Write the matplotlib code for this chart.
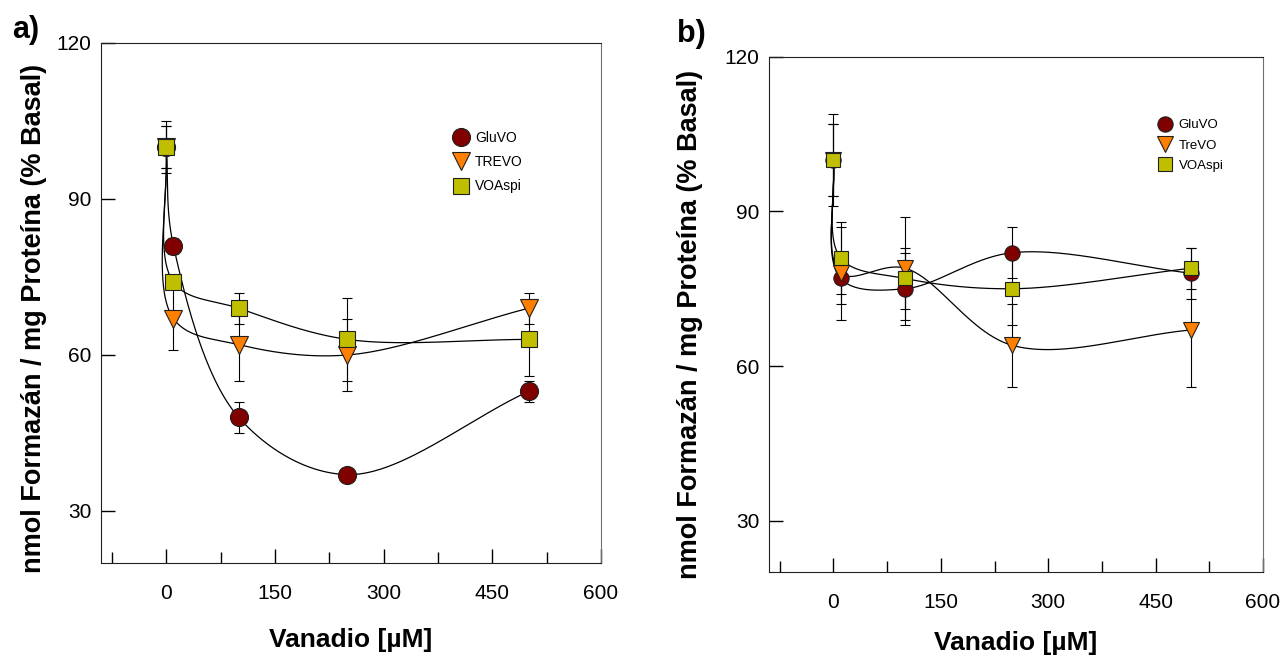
import numpy as np
import matplotlib
matplotlib.use("Agg")
import matplotlib.pyplot as plt
from matplotlib.lines import Line2D

# data
dose = [0, 10, 100, 250, 500]
series = ["GluVO", "TREVO", "VOAspi"]
series_b = ["GluVO", "TreVO", "VOAspi"]

a_glu = [100, 81, 48, 37, 53]
a_glu_err = [4, 1.5, 3, 1, 2]
a_tre = [100, 67, 62, 60, 69]
a_tre_err = [5, 6, 7, 7, 3]
a_voa = [100, 74, 69, 63, 63]
a_voa_err = [4, 1, 3, 8, 7]

b_glu = [100, 77, 75, 82, 78]
b_glu_err = [9, 5, 7, 5, 5]
b_tre = [100, 78, 79, 64, 67]
b_tre_err = [7, 9, 10, 8, 11]
b_voa = [100, 81, 77, 75, 79]
b_voa_err = [7, 7, 6, 7, 4]

colors = ["#800000", "#FF8000", "#BFBF00"]
markers = ["o", "v", "s"]

plt.rcParams["font.family"] = ["Liberation Sans", "DejaVu Sans"]

XLIM = (-90, 600)
YLIM = (20, 120)


def catmull_rom(P, n=80, alpha=0.5):
    # centripetal Catmull-Rom through the points
    ext = np.vstack([2 * P[0] - P[1], P, 2 * P[-1] - P[-2]])
    out = []
    for i in range(1, len(ext) - 2):
        p0, p1, p2, p3 = ext[i - 1:i + 3]
        t0 = 0.0
        t1 = t0 + np.linalg.norm(p1 - p0) ** alpha
        t2 = t1 + np.linalg.norm(p2 - p1) ** alpha
        t3 = t2 + np.linalg.norm(p3 - p2) ** alpha
        t = np.linspace(t1, t2, n)[:, None]
        A1 = (t1 - t) / (t1 - t0) * p0 + (t - t0) / (t1 - t0) * p1
        A2 = (t2 - t) / (t2 - t1) * p1 + (t - t1) / (t2 - t1) * p2
        A3 = (t3 - t) / (t3 - t2) * p2 + (t - t2) / (t3 - t2) * p3
        B1 = (t2 - t) / (t2 - t0) * A1 + (t - t0) / (t2 - t0) * A2
        B2 = (t3 - t) / (t3 - t1) * A2 + (t - t1) / (t3 - t1) * A3
        out.append((t2 - t) / (t2 - t1) * B1 + (t - t1) / (t2 - t1) * B2)
    return np.vstack(out)


def smooth(x, y, w, hgt):
    x = np.asarray(x, float)
    y = np.asarray(y, float)
    u = (x - XLIM[0]) / (XLIM[1] - XLIM[0]) * w
    v = (y - YLIM[0]) / (YLIM[1] - YLIM[0]) * hgt
    c = catmull_rom(np.column_stack([u, v]))
    return (c[:, 0] / w * (XLIM[1] - XLIM[0]) + XLIM[0],
            c[:, 1] / hgt * (YLIM[1] - YLIM[0]) + YLIM[0])


def panel(ax, data, errs, labels, ms, w, hgt, leg_anchor, leg_fs, leg_sp):
    for vals, err in zip(data, errs):
        sx, sy = smooth(dose, vals, w, hgt)
        ax.plot(sx, sy, color="black", lw=0.9, zorder=2)
        ax.errorbar(dose, vals, yerr=err, fmt="none", ecolor="black",
                    elinewidth=0.8, capsize=3.5, capthick=0.8, zorder=3)
    for vals, col, mk, s in zip(data, colors, markers, ms):
        ax.plot(dose, vals, ls="none", marker=mk, ms=s, mfc=col,
                mec="#202020", mew=0.8, zorder=4)
    handles = [Line2D([], [], ls="none", marker=mk, ms=s, mfc=col, mec="#202020", mew=0.8)
               for col, mk, s in zip(colors, markers, ms)]
    ax.legend(handles, labels, loc="upper left", bbox_to_anchor=leg_anchor,
              frameon=False, fontsize=leg_fs, handletextpad=0.4,
              labelspacing=leg_sp, borderpad=0, handlelength=1.2)
    ax.set_xlim(XLIM)
    ax.set_ylim(YLIM)
    ax.set_xticks([0, 150, 300, 450, 600])
    ax.set_xticks([-75, 75, 225, 375, 525], minor=True)
    ax.set_yticks([30, 60, 90, 120])
    ax.tick_params(axis="both", which="major", direction="in", length=10,
                   width=1, labelsize=15)
    ax.tick_params(axis="x", which="major", pad=15)
    ax.tick_params(axis="y", which="major", pad=7)
    ax.tick_params(axis="x", which="minor", direction="in", length=8, width=1)
    for sp in ["left", "bottom", "top"]:
        ax.spines[sp].set_color("#202020")
    ax.spines["right"].set_color("#707070")
    ax.set_xlabel("Vanadio [\u00b5M]", fontsize=19, fontweight="bold")
    ax.set_ylabel("nmol Formaz\u00e1n / mg Prote\u00edna (% Basal)", fontsize=19.5,
                  fontweight="bold")


fig = plt.figure(figsize=(12.86, 6.57), dpi=100)
ax_a = fig.add_axes([101 / 1286, 1 - 563 / 657, 500 / 1286, 520 / 657])
ax_b = fig.add_axes([769 / 1286, 1 - 572 / 657, 494 / 1286, 515 / 657])

panel(ax_a, [a_glu, a_tre, a_voa], [a_glu_err, a_tre_err, a_voa_err], series,
      [13, 13, 12], 500, 520, (0.69, 0.845), 10, 0.75)
panel(ax_b, [b_glu, b_tre, b_voa], [b_glu_err, b_tre_err, b_voa_err], series_b,
      [11, 11, 10], 494, 515, (0.773, 0.892), 9.5, 0.6)

ax_a.xaxis.set_label_coords(0.5, -0.125)
ax_a.yaxis.set_label_coords(-0.108, 0.47)
ax_b.xaxis.set_label_coords(0.5, -0.114)
ax_b.yaxis.set_label_coords(-0.133, 0.48)

fig.text(12 / 1286, 1 - 15 / 657, "a)", fontsize=22, fontweight="bold", va="top")
fig.text(677 / 1286, 1 - 19 / 657, "b)", fontsize=22, fontweight="bold", va="top")

fig.savefig("out.png", dpi=100)
